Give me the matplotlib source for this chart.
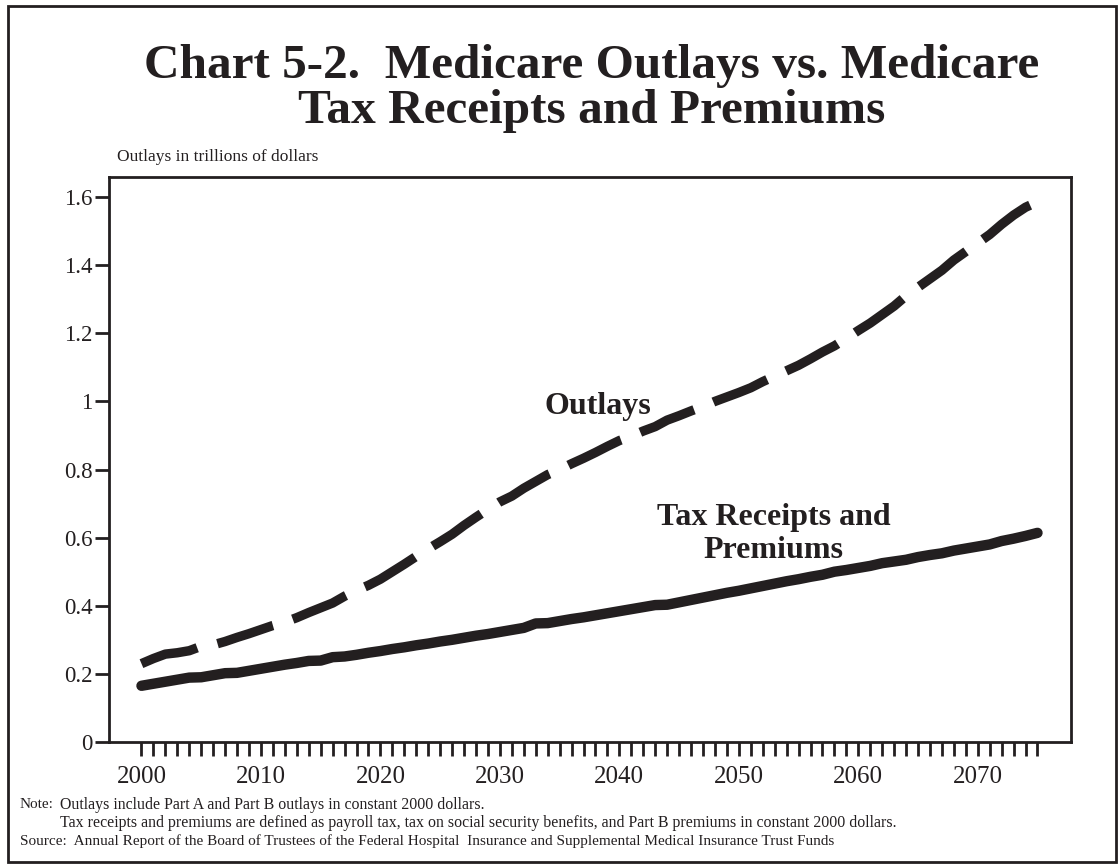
import matplotlib
matplotlib.use('Agg')
import matplotlib.pyplot as plt
import numpy as np
from matplotlib.patches import Rectangle

years = np.arange(2000, 2076)

# values, trillions of 2000 dollars
outlays = [0.230, 0.245, 0.258, 0.262, 0.268, 0.281, 0.285, 0.295, 0.307, 0.318,
           0.330, 0.342, 0.352, 0.365, 0.380, 0.394, 0.408, 0.428, 0.445, 0.460,
           0.478, 0.500, 0.522, 0.545, 0.567, 0.588, 0.610, 0.636, 0.660, 0.683,
           0.705, 0.722, 0.745, 0.765, 0.785, 0.800, 0.817, 0.833, 0.850, 0.868,
           0.885, 0.898, 0.913, 0.926, 0.945, 0.958, 0.972, 0.985, 1.000, 1.013,
           1.026, 1.040, 1.058, 1.074, 1.090, 1.106, 1.125, 1.145, 1.163, 1.185,
           1.208, 1.230, 1.255, 1.280, 1.310, 1.335, 1.360, 1.385, 1.415, 1.440,
           1.465, 1.490, 1.520, 1.547, 1.570, 1.586]

tax_premiums = [0.165, 0.171, 0.177, 0.183, 0.189, 0.190, 0.196, 0.202, 0.203, 0.209,
                0.215, 0.221, 0.227, 0.232, 0.238, 0.239, 0.249, 0.251, 0.256, 0.262,
                0.267, 0.273, 0.278, 0.284, 0.289, 0.295, 0.300, 0.306, 0.312, 0.317,
                0.323, 0.329, 0.335, 0.348, 0.349, 0.355, 0.361, 0.366, 0.372, 0.378,
                0.384, 0.390, 0.396, 0.402, 0.403, 0.410, 0.417, 0.424, 0.431, 0.438,
                0.444, 0.451, 0.458, 0.465, 0.472, 0.478, 0.485, 0.491, 0.500, 0.505,
                0.511, 0.517, 0.525, 0.530, 0.535, 0.543, 0.549, 0.554, 0.562, 0.568,
                0.574, 0.580, 0.590, 0.597, 0.605, 0.614]

yticks = [0, 0.2, 0.4, 0.6, 0.8, 1.0, 1.2, 1.4, 1.6]
ytick_labels = ['0', '0.2', '0.4', '0.6', '0.8', '1', '1.2', '1.4', '1.6']
xlabel_years = [2000, 2010, 2020, 2030, 2040, 2050, 2060, 2070]

plt.rcParams['font.family'] = 'Liberation Serif'
plt.rcParams['lines.scale_dashes'] = False
ink = '#231f20'

fig = plt.figure(figsize=(11.2, 8.67), dpi=100)
ax = fig.add_axes([0.0973, 0.1442, 0.8589, 0.6517])

ax.plot(years, outlays, color=ink, lw=6.8, dashes=(42, 15), solid_capstyle='butt',
        dash_capstyle='butt')
ax.plot(years, tax_premiums, color=ink, lw=7.5, solid_capstyle='round')

ax.set_xlim(1997.28, 2077.8)
ax.set_ylim(0, 1.659)

ax.set_xticks(years)
ax.set_xticklabels([str(y) if y in xlabel_years else '' for y in years], fontsize=18)
ax.set_yticks(yticks)
ax.set_yticklabels(ytick_labels, fontsize=16.5)
ax.tick_params(axis='x', direction='out', length=10, width=2, pad=7, colors=ink)
ax.tick_params(axis='y', direction='out', length=10, width=2, pad=2, colors=ink)
for s in ax.spines.values():
    s.set_linewidth(2)
    s.set_color(ink)

ax.text(2038.2, 0.984, 'Outlays', fontsize=23, fontweight='bold', ha='center',
        va='center', color=ink)
ax.text(2052.9, 0.611, 'Tax Receipts and\nPremiums', fontsize=23, fontweight='bold',
        ha='center', va='center', color=ink, linespacing=1.15)

fig.text(0.528, 0.898, 'Chart 5-2.  Medicare Outlays vs. Medicare\nTax Receipts and Premiums',
         fontsize=35.5, fontweight='bold', ha='center', va='center', color=ink,
         linespacing=1.02)
fig.text(117 / 1120, 1 - 157 / 867, 'Outlays in trillions of dollars', fontsize=12.5,
         va='center', color=ink)

fig.text(20 / 1120, 1 - 805 / 867, 'Note:', fontsize=11, va='center', color=ink)
fig.text(60 / 1120, 1 - 805 / 867,
         'Outlays include Part A and Part B outlays in constant 2000 dollars.',
         fontsize=11.4, va='center', color=ink)
fig.text(60 / 1120, 1 - 823 / 867,
         'Tax receipts and premiums are defined as payroll tax, tax on social security '
         'benefits, and Part B premiums in constant 2000 dollars.',
         fontsize=11.4, va='center', color=ink)
fig.text(20 / 1120, 1 - 841 / 867,
         'Source:  Annual Report of the Board of Trustees of the Federal Hospital  '
         'Insurance and Supplemental Medical Insurance Trust Funds',
         fontsize=11, va='center', color=ink)

fig.patches.append(Rectangle((0.007, 0.006), 0.989, 0.987, transform=fig.transFigure,
                             fill=False, lw=2, edgecolor=ink))

fig.savefig('out.png', dpi=100)
